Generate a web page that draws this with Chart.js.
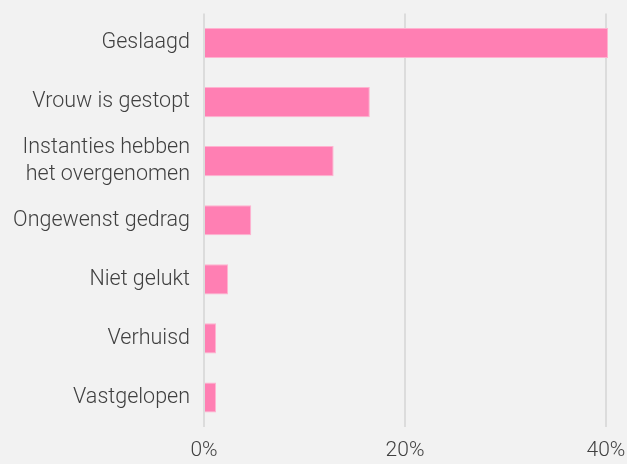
<!DOCTYPE html>
<html>
<head>
<meta charset="utf-8">
<script src="https://cdn.jsdelivr.net/npm/chart.js@4"></script>
<style>
  html, body { margin: 0; padding: 0; background: #f2f2f2; }
  #wrap { width: 627px; height: 464px; }
</style>
</head>
<body>
<div id="wrap"><canvas id="barChart"></canvas></div>
<script>
const categories = [
    'Geslaagd',
    'Vrouw is gestopt',
    ['Instanties hebben', 'het overgenomen'],
    'Ongewenst gedrag',
    'Niet gelukt',
    'Verhuisd',
    'Vastgelopen'
];
const percentages = [40.2, 16.5, 12.9, 4.7, 2.4, 1.2, 1.2];
const tickValues = [0, 20, 40];

const ctx = document.getElementById('barChart').getContext('2d');
const chart = new Chart(ctx, {
    type: 'bar',
    data: {
        labels: categories,
        datasets: [{
            data: percentages,
            backgroundColor: '#ff7fb3',
            borderColor: '#ffb3d0',
            borderWidth: 1,
            categoryPercentage: 1,
            barPercentage: 0.51
        }]
    },
    options: {
        indexAxis: 'y',
        responsive: true,
        maintainAspectRatio: false,
        animation: false,
        layout: { padding: { top: 13.5, left: 0, right: 0, bottom: 0 } },
        plugins: {
            legend: { display: false },
            tooltip: { enabled: false }
        },
        scales: {
            x: {
                min: 0,
                max: 40.3,
                afterBuildTicks: (axis) => {
                    axis.ticks = tickValues.map(v => ({ value: v }));
                },
                afterFit: (axis) => {
                    axis.paddingRight = 18;
                    axis.height = 37;
                },
                grid: { color: '#dcdcdc', lineWidth: 2, drawTicks: false },
                border: { display: false },
                ticks: {
                    padding: 11,
                    color: '#404040',
                    font: { family: 'Roboto', weight: 300, size: 21 },
                    callback: (v) => v + '%'
                }
            },
            y: {
                afterFit: (axis) => {
                    axis.paddingTop = 0;
                    axis.paddingBottom = 0;
                    axis.width = 204; // puts 0% at x=204 like the original
                },
                grid: { display: false, drawTicks: false },
                border: { display: false },
                ticks: {
                    autoSkip: false,
                    padding: 14,
                    color: '#404040',
                    font: { family: 'Roboto', weight: 300, size: 21.5, lineHeight: 1.25 }
                }
            }
        }
    }
});
</script>
</body>
</html>
